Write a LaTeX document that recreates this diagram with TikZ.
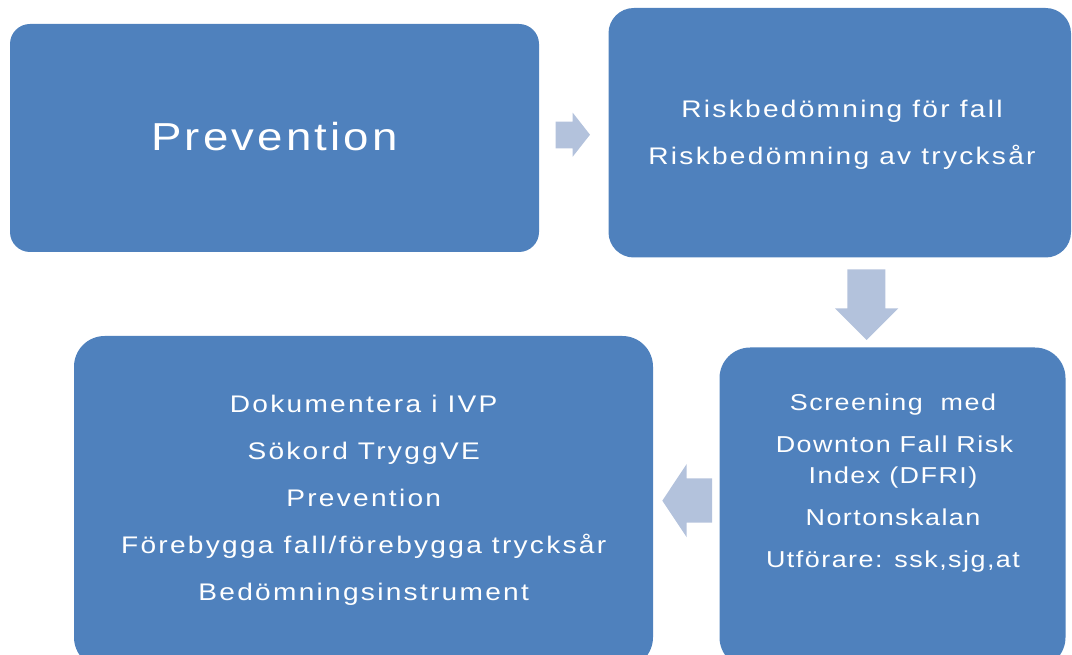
\documentclass[tikz,border=0pt]{standalone}
\usepackage{fontspec}
\setmainfont{Liberation Sans}
\newfontfamily\boxfontA[FakeStretch=1.17,LetterSpace=8]{Liberation Sans}
\newfontfamily\boxfontM[FakeStretch=1.17,LetterSpace=9.5]{Liberation Sans}
\newfontfamily\boxfontB[FakeStretch=1.17,LetterSpace=6.4]{Liberation Sans}
\usetikzlibrary{fit}
\definecolor{boxblue}{HTML}{4F81BD}
\definecolor{arrowblue}{HTML}{B3C2DC}
\begin{document}
\begin{tikzpicture}[x=0.75pt,y=-0.75pt,
  box/.style={fill=boxblue, draw=none, inner sep=0pt, rounded corners=#1},
  blockarrow/.style={fill=arrowblue, draw=none},
  lbl/.style={text=white, anchor=base, inner sep=0pt},
  bigtxt/.style={lbl, font=\boxfontA\fontsize{29.25}{32}\selectfont},
  midtxt/.style={lbl, font=\boxfontM\fontsize{18}{21}\selectfont},
  smalltxt/.style={lbl, font=\boxfontB\fontsize{17.25}{20}\selectfont}]
\useasboundingbox (0,0) rectangle (1072,655);
\clip (0,0) rectangle (1072,655);
% boxes
\node[box=15pt, fit={(10,24) (539,252)}] (b1) {};
\node[box=19pt, fit={(608.5,8) (1071,257.5)}] (b2) {};
\node[box=23pt, fit={(719.5,347.5) (1065.5,668)}] (b3) {};
\node[box=23pt, fit={(74,336) (653,668)}] (b4) {};
% block arrows
\fill[blockarrow] (555.7,121.7) -- (572.7,121.7) -- (572.7,112.7) -- (590,134.7)
  -- (572.7,156.7) -- (572.7,148.3) -- (555.7,148.3) -- cycle;
\fill[blockarrow] (847.3,269.3) -- (885.3,269.3) -- (885.3,308.3) -- (898.3,308.3)
  -- (866.6,340) -- (835,308.3) -- (847.3,308.3) -- cycle;
\fill[blockarrow] (712,478.3) -- (686.7,478.3) -- (686.7,464) -- (662.3,500.7)
  -- (686.7,537.3) -- (686.7,522.7) -- (712,522.7) -- cycle;
% texts
\node[bigtxt] (t1) at (274.5,150.7) {Prevention};
\node[midtxt] (t2a) at (842,117.3) {Riskbedömning för fall};
\node[midtxt] (t2b) at (842,164.3) {Riskbedömning av trycksår};
\node[smalltxt] (t3a) at (893,411) {Screening~ med};
\node[smalltxt] (t3b) at (894.5,452.7) {Downton Fall Risk};
\node[smalltxt] (t3c) at (893,484) {Index (DFRI)};
\node[smalltxt] (t3d) at (893,525.7) {Nortonskalan};
\node[smalltxt] (t3e) at (893,567.7) {Utförare: ssk,sjg,at};
\node[midtxt] (t4a) at (363.7,412.3) {Dokumentera i IVP};
\node[midtxt] (t4b) at (363.7,459.3) {Sökord TryggVE};
\node[midtxt] (t4c) at (363.7,506.3) {Prevention};
\node[midtxt] (t4d) at (363.7,553.3) {Förebygga fall/förebygga trycksår};
\node[midtxt] (t4e) at (363.7,600.3) {Bedömningsinstrument};
\end{tikzpicture}
\end{document}
